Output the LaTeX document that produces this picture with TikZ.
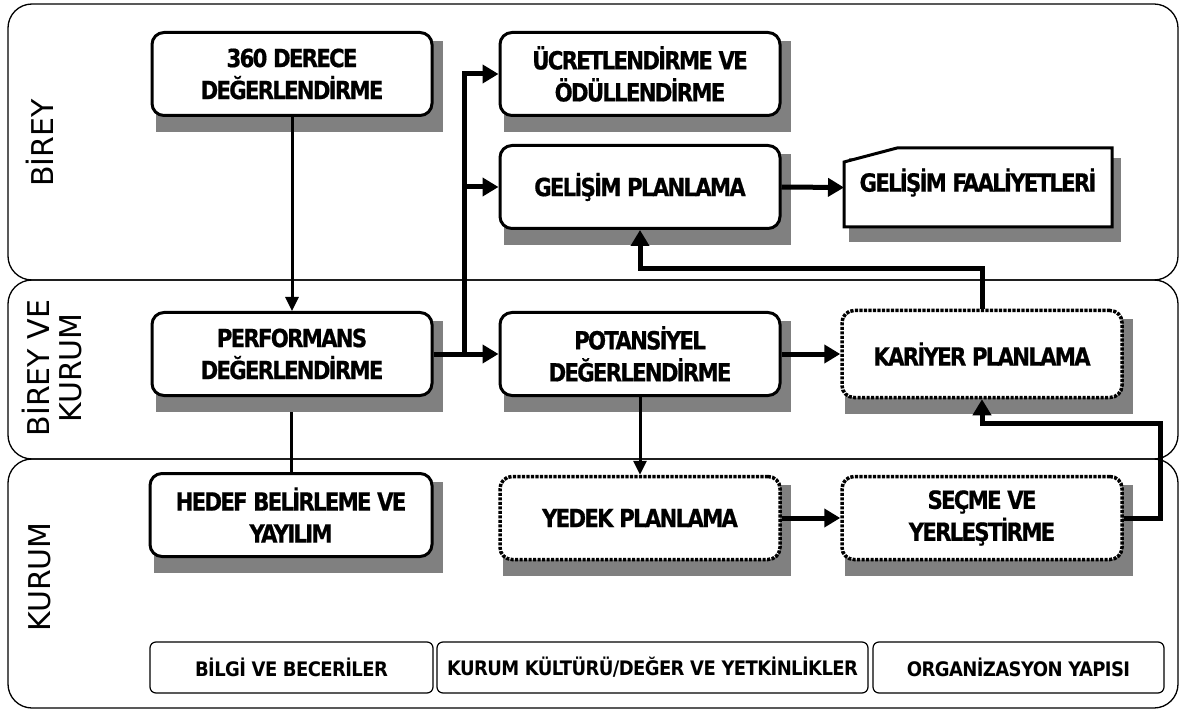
\documentclass[tikz,border=0pt]{standalone}
\usepackage{fontspec}
\setmainfont{DejaVu Sans}
\newfontfamily\boxfont{DejaVu Sans}[FakeStretch=0.85, LetterSpace=-7, FakeBold=0.6]
\newfontfamily\basefont{DejaVu Sans}[FakeStretch=0.9, LetterSpace=-3]
\usetikzlibrary{arrows.meta}
\pgfdeclarelayer{lanes}
\pgfdeclarelayer{shade}
\pgfsetlayers{lanes,shade,main}
\definecolor{shadowgray}{HTML}{808080}

% grey offset block behind a box
\newcommand\boxshade[1]{%
  \fill[shadowgray] ([shift={(5,10)}]#1.north west) rectangle ([shift={(9,15)}]#1.south east);}

\begin{document}
\begin{tikzpicture}[x=1pt,y=-1pt,
  lane/.style={draw, line width=1.3pt, rounded corners=24pt},
  lanelabel/.style={rotate=90, align=center, font=\fontsize{30}{32}\selectfont, inner sep=0pt},
  stepbox/.style={draw, fill=white, line width=3pt, rounded corners=12pt,
    minimum width=280pt, minimum height=83pt, inner sep=0pt, align=center,
    font=\boxfont\bfseries\fontsize{25}{32}\selectfont},
  planbox/.style={stepbox, line width=3.5pt, dash pattern=on 3.2pt off 1.3pt},
  basebox/.style={draw, line width=1.2pt, rounded corners=6pt, minimum height=51pt,
    inner sep=0pt, font=\basefont\bfseries\fontsize{20}{22}\selectfont},
  flow/.style={line width=3pt, -{Triangle[length=14pt,width=13pt]}},
  bigflow/.style={line width=5pt, -{Triangle[length=16pt,width=18pt]}},
]
\useasboundingbox (0,0) rectangle (1186,711);

% swim lanes
\begin{pgfonlayer}{lanes}
  \draw[lane] (8,4) rectangle (1178,280);
  \draw[lane] (8,280) rectangle (1178,459);
  \draw[lane] (8,459) rectangle (1178,708);
\end{pgfonlayer}
\node[lanelabel] (lbirey) at (40,143) {BİREY};
\node[lanelabel] (lbk) at (52,368) {BİREY VE\\KURUM};
\node[lanelabel] (lkurum) at (40,577) {KURUM};

% process boxes
\node[stepbox] (d360) at (292,74) {360 DERECE\\DEĞERLENDİRME};
\node[stepbox] (ucret) at (640,74) {ÜCRETLENDİRME VE\\ÖDÜLLENDİRME};
\node[stepbox] (gelisim) at (640,187) {GELİŞİM PLANLAMA};
\node[stepbox] (perf) at (292,354) {PERFORMANS\\DEĞERLENDİRME};
\node[stepbox] (pot) at (640,354) {POTANSİYEL\\DEĞERLENDİRME};
\node[planbox, minimum height=87pt] (kariyer) at (982,354) {KARİYER PLANLAMA};
\node[stepbox, minimum width=282pt] (hedef) at (291,515) {HEDEF BELİRLEME VE\\YAYILIM};
\node[planbox] (yedek) at (640,518) {YEDEK PLANLAMA};
\node[planbox] (secme) at (982,518) {SEÇME VE\\YERLEŞTİRME};

% activity box with a slanted top-left corner
\node[minimum width=268pt, minimum height=79pt, inner sep=0pt, outer sep=0pt] (faal) at (978,187.5) {};
\fill[white, draw=black, line width=3pt, line join=miter]
  (faal.south west) -- (faal.south east) -- (faal.north east)
  -- ([xshift=53pt]faal.north west) -- ([yshift=-14pt]faal.north west) -- cycle;
\node[font=\boxfont\bfseries\fontsize{25}{32}\selectfont] (faaltext) at ([yshift=5pt]faal.center) {GELİŞİM FAALİYETLERİ};

% shadows
\begin{pgfonlayer}{shade}
  \boxshade{d360}\boxshade{ucret}\boxshade{gelisim}\boxshade{perf}
  \boxshade{pot}\boxshade{kariyer}\boxshade{hedef}\boxshade{yedek}
  \boxshade{secme}\boxshade{faal}
\end{pgfonlayer}

% base boxes
\node[basebox, minimum width=283pt] (bilgi) at (291.5,667.5) {BİLGİ VE BECERİLER};
\node[basebox, minimum width=431pt] (kultur) at (652.5,667.5) {KURUM KÜLTÜRÜ/DEĞER VE YETKİNLİKLER};
\node[basebox, minimum width=291pt] (org) at (1018.5,667.5) {ORGANİZASYON YAPISI};

% connectors
\coordinate (fork) at (464,354);
\coordinate (rturn) at (1160,423);
\coordinate (ktop) at (982,269);
\coordinate (hedefend) at (291,412);

\draw[flow] (d360.south) -- (perf.north);
\draw[line width=3pt] (hedef.north) -- (hedefend);
\draw[bigflow] (perf.east) -- (pot.west);
\draw[bigflow] (fork) |- (ucret.west);
\draw[bigflow] (fork) |- (gelisim.west);
\draw[bigflow] (gelisim.east) -- (faal.west);
\draw[bigflow] (pot.east) -- (kariyer.west);
\draw[flow] (pot.south) -- (yedek.north);
\draw[bigflow] (yedek.east) -- (secme.west);
\draw[bigflow] (secme.east) -| (rturn) -| (kariyer.south);
\draw[bigflow] (kariyer.north) -- (ktop) -| (gelisim.south);
\end{tikzpicture}
\end{document}
